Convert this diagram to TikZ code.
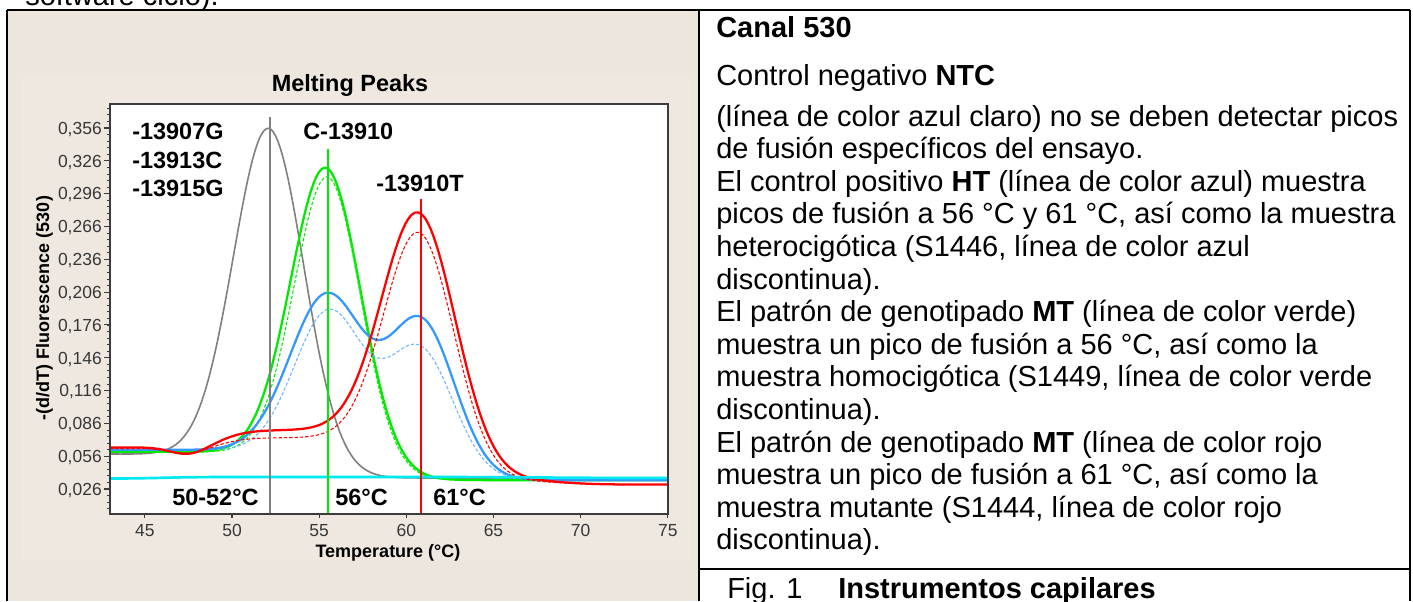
\documentclass[tikz,border=0pt]{standalone}
\usepackage{fontspec}
\setmainfont{Liberation Sans}
\setsansfont{Liberation Sans}
\definecolor{beige}{RGB}{236,230,221}
\definecolor{beigein}{RGB}{238,232,224}
\definecolor{lgreen}{RGB}{0,235,0}
\definecolor{lblue}{RGB}{51,153,255}
\definecolor{lblued}{RGB}{110,180,255}
\definecolor{lcyan}{RGB}{0,232,240}
\definecolor{lgray}{RGB}{128,128,128}
\definecolor{axisgray}{RGB}{60,60,60}
\definecolor{ticktext}{RGB}{55,55,55}
\begin{document}
\begin{tikzpicture}[x=0.75pt,y=-0.75pt,
  declare function={
    TX(\u)=110+(\u-43)*17.43;
    VY(\m)=489-(\m-26)*1.094;
    sg(\z)=1/(1+exp(max(-9,min(9,\z))));
    ga(\z)=exp(-min(9,\z*\z/2));
    grayc(\u)=36+22*sg((\u-52)/1.5)+309*ga((\u-52.12)/2.02);
    greenS(\u)=34+26*sg((\u-56)/1.5)+270*ga((\u-55.4)/2.0);
    greenD(\u)=34+26*sg((\u-56)/1.5)+262*ga((\u-55.5)/1.9);
    redS(\u)=34-4*sg(-(\u-69))+(46-16*sg((\u-49.5)/0.8)-7*ga((\u-47.5)/1.0))*sg((\u-60.8)/1.2)+221*ga((\u-60.8)/2.1);
    redD(\u)=33-3*sg(-(\u-69))+(40-10*sg((\u-49.5)/0.8)-5*ga((\u-47.5)/1.0))*sg((\u-60.8)/1.2)+207*ga((\u-60.8)/2.0);
    blueS(\u)=34+28*sg((\u-57)/2)+150*ga((\u-55.5)/2.15)+139*ga((\u-60.9)/1.9);
    blueD(\u)=34+28*sg((\u-57)/2)+135*ga((\u-55.6)/2.0)+115*ga((\u-60.8)/1.9);
    cyanc(\u)=35.5+1.5*sg(-(\u-46))-1*sg(-(\u-68)/2);
  },
  txt/.style={anchor=base west, inner sep=0pt, font=\fontsize{21.75}{26}\selectfont},
  plotlab/.style={anchor=base west, inner sep=0pt, font=\fontsize{17.6}{20}\selectfont\bfseries},
  ytick/.style={anchor=base east, inner sep=0pt, text=ticktext, font=\fontsize{13.1}{15}\selectfont},
  xtick/.style={anchor=base, inner sep=0pt, text=ticktext, font=\fontsize{13.1}{15}\selectfont},
  tbl/.style={line width=1.6pt, black},
  solidc/.style={line width=1.7pt, line join=round},
  dashc/.style={line width=0.8pt, dash pattern=on 2.5pt off 1.5pt},
  mark line/.style={line width=1.6pt}
]
\useasboundingbox (0,0) rectangle (1413,601);
\clip (0,0) rectangle (1413,601);

% left cell background
\fill[beige] (8,11) rectangle (699,601);
\fill[beigein] (22,77) rectangle (690,560);

% clipped line of text above the table
\node[txt] (toptext) at (25,5) {software ciclo).};

% plot area
\fill[white] (110,104) rectangle (668,514);
\node[anchor=base, inner sep=0pt, font=\fontsize{17.6}{20}\selectfont\bfseries] (title) at (350,91) {Melting Peaks};

% y ticks
\foreach \j in {-3,...,58}
  \draw[axisgray, line width=0.6pt] (107,{489-6.564*\j}) -- (110,{489-6.564*\j});
\foreach \k/\lab in {0/{0,026},1/{0,056},2/{0,086},3/{0,116},4/{0,146},5/{0,176},6/{0,206},7/{0,236},8/{0,266},9/{0,296},10/{0,326},11/{0,356}}{
  \draw[axisgray, line width=0.8pt] (104,{489-32.82*\k}) -- (110,{489-32.82*\k});
  \node[ytick] (yl\k) at (102,{489-32.82*\k+6.3}) {\lab};
}
% x ticks
\foreach \t in {45,50,55,60,65,70,75}{
  \draw[axisgray, line width=0.8pt] ({TX(\t)},514) -- ({TX(\t)},518);
  \node[xtick] (xl\t) at ({TX(\t)},536) {\t};
}
\node[anchor=base, inner sep=0pt, font=\fontsize{13.5}{16}\selectfont\bfseries] (xlabel) at (388,557) {Temperature (°C)};
\node[rotate=90, anchor=base, inner sep=0pt, font=\fontsize{13.5}{16}\selectfont\bfseries] (ylabel) at (49,308) {-(d/dT) Fluorescence (530)};

% curves
\begin{scope}
\clip (110,104) rectangle (668,514);
\draw[lgray, line width=1.2pt] plot[domain=43:75,samples=220] ({TX(\x)},{VY(grayc(\x))});
\draw[lgreen, dashc] plot[domain=43:75,samples=220] ({TX(\x)},{VY(greenD(\x))});
\draw[lgreen, solidc] plot[domain=43:75,samples=220] ({TX(\x)},{VY(greenS(\x))});
\draw[lblued, dashc] plot[domain=43:75,samples=220] ({TX(\x)},{VY(blueD(\x))});
\draw[lblue, solidc] plot[domain=43:75,samples=220] ({TX(\x)},{VY(blueS(\x))});
\draw[red, dashc] plot[domain=43:75,samples=220] ({TX(\x)},{VY(redD(\x))});
\draw[red, solidc] plot[domain=43:75,samples=220] ({TX(\x)},{VY(redS(\x))});
\draw[lcyan, line width=2pt] plot[domain=43:75,samples=120] ({TX(\x)},{VY(cyanc(\x))});
\end{scope}

% peak marker lines
\coordinate (gtop) at (270,117); \coordinate (gbot) at (270,514);
\coordinate (ntop) at (328,149); \coordinate (nbot) at (328,514);
\coordinate (rtop) at (421,199); \coordinate (rbot) at (421,514);
\draw[lgray, mark line] (gtop) -- (gbot);
\draw[lgreen, mark line] (ntop) -- (nbot);
\draw[red, mark line] (rtop) -- (rbot);

% plot frame
\draw[axisgray, line width=1pt] (110,104) rectangle (668,514);

% labels inside the plot
\node[plotlab] (a1) at (132,139.5) {-13907G};
\node[plotlab] (a2) at (132,168) {-13913C};
\node[plotlab] (a3) at (132,196) {-13915G};
\node[plotlab] (b1) at (303,139.5) {C-13910};
\node[plotlab] (c1) at (376,191.5) {-13910T};
\node[plotlab] (t1) at (172,505.5) {50-52°C};
\node[plotlab] (t2) at (335,505.5) {56°C};
\node[plotlab] (t3) at (433,505.5) {61°C};

% table lines
\draw[tbl] (7,10) -- (1410,10);
\draw[tbl] (7,10) -- (7,601);
\draw[tbl] (699,10) -- (699,601);
\draw[line width=2.2pt] (1410,10) -- (1410,601);
\draw[tbl] (699,569) -- (1410,569);

% right-hand text
\node[txt] (l1) at (716,37) {\textbf{Canal 530}};
\node[txt] (l2) at (716,85) {Control negativo \textbf{NTC}};
\node[txt] (l3) at (716,126) {(línea de color azul claro) no se deben detectar picos};
\node[txt] (l4) at (716,158.6) {de fusión específicos del ensayo.};
\node[txt] (l5) at (716,191.2) {El control positivo \textbf{HT} (línea de color azul) muestra};
\node[txt] (l6) at (716,223.8) {picos de fusión a 56 °C y 61 °C, así como la muestra};
\node[txt] (l7) at (716,256.4) {heterocigótica (S1446, línea de color azul};
\node[txt] (l8) at (716,289) {discontinua).};
\node[txt] (l9) at (716,321.6) {El patrón de genotipado \textbf{MT} (línea de color verde)};
\node[txt] (l10) at (716,354.2) {muestra un pico de fusión a 56 °C, así como la};
\node[txt] (l11) at (716,386.8) {muestra homocigótica (S1449, línea de color verde};
\node[txt] (l12) at (716,419.4) {discontinua).};
\node[txt] (l13) at (716,452) {El patrón de genotipado \textbf{MT} (línea de color rojo};
\node[txt] (l14) at (716,484.6) {muestra un pico de fusión a 61 °C, así como la};
\node[txt] (l15) at (716,517.2) {muestra mutante (S1444, línea de color rojo};
\node[txt] (l16) at (716,549.8) {discontinua).};
\node[txt] (fig) at (727,598) {Fig. 1};
\node[txt] (figt) at (838,598) {\textbf{Instrumentos capilares}};
\end{tikzpicture}
\end{document}
